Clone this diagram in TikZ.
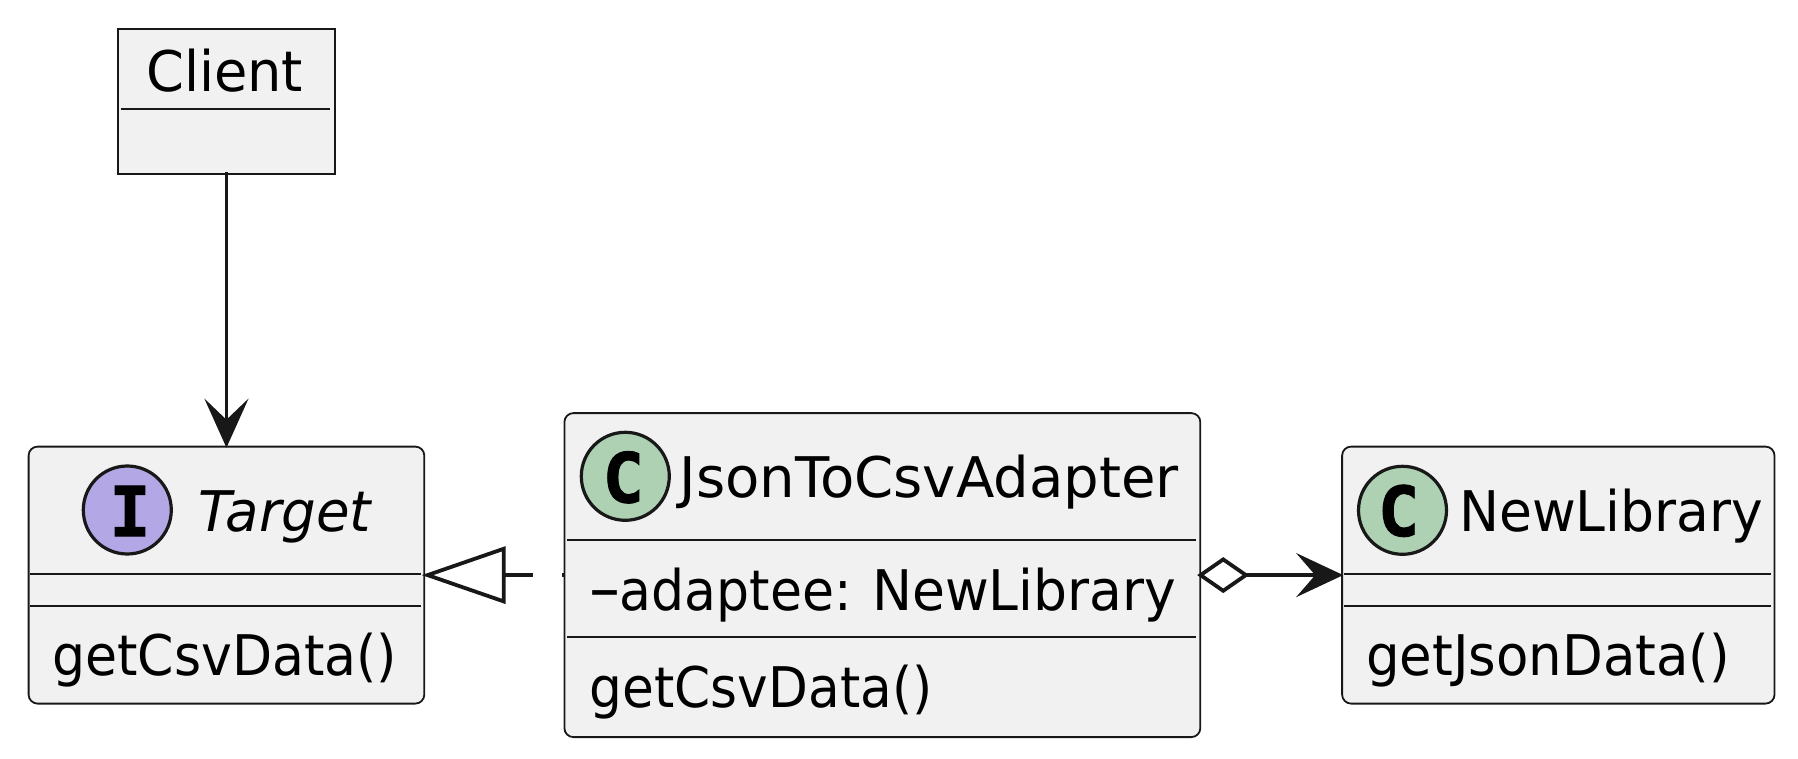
\documentclass[tikz,border=0pt]{standalone}
\usepackage{fontspec}
\setmainfont{DejaVu Sans}
\newfontfamily\monobold[BoldFont={DejaVu Sans Mono Bold},BoldFeatures={FakeBold=1.2}]{DejaVu Sans Mono}
\usepackage{graphicx}
\usetikzlibrary{arrows.meta}
\definecolor{boxfill}{HTML}{F1F1F1}
\definecolor{ink}{HTML}{181818}
\definecolor{spotc}{HTML}{ADD1B2}
\definecolor{spoti}{HTML}{B4A7E5}
\newcommand{\fitw}[2]{\setbox0=\hbox{#2}\pgfmathsetmacro{\fitratio}{#1/(\wd0/1pt)}\scalebox{\fitratio}[1]{\box0}}
\tikzset{
  x=1pt,y=-1pt,
  classbox/.style={draw=ink,fill=boxfill,line width=1.8pt,rounded corners=9pt,inner sep=0pt,anchor=north west},
  plainbox/.style={classbox,rounded corners=0pt},
  seprule/.style={draw=ink,line width=1.8pt},
  spot/.style={circle,draw=ink,line width=3.2pt,inner sep=0pt,minimum size=88pt},
  spotletter/.style={inner sep=0pt,anchor=center,font=\fontsize{69pt}{69pt}\monobold\bfseries,text=black},
  label/.style={inner sep=0pt,anchor=base west,text=black,font=\fontsize{56pt}{60pt}\selectfont},
  connector/.style={draw=ink,line width=3.8pt},
}
\begin{document}
\begin{tikzpicture}
\useasboundingbox (0,0) rectangle (1798,759);
% boxes
\node[plainbox,minimum width=216.7pt,minimum height=144.5pt] (client) at (117.2,28.5) {};
\node[classbox,minimum width=395.7pt,minimum height=257pt] (target) at (27.7,445.7) {};
\node[classbox,minimum width=635.9pt,minimum height=324pt] (adapter) at (563.5,412.2) {};
\node[classbox,minimum width=432.4pt,minimum height=257pt] (newlib) at (1341.2,445.7) {};
% separators
\draw[seprule] (120.5,109) -- (330,109);
\draw[seprule] (30.4,574.2) -- (420.6,574.2);
\draw[seprule] (30.4,606.2) -- (420.6,606.2);
\draw[seprule] (566.5,540.3) -- (1196.4,540.3);
\draw[seprule] (566.5,637.3) -- (1196.4,637.3);
\draw[seprule] (1344.2,574.2) -- (1770.6,574.2);
\draw[seprule] (1344.2,606.2) -- (1770.6,606.2);
% spots
\node[spot,fill=spoti] (spotT) at (127.3,510) {};
\node[spotletter] (letT) at (130,511) {I};
\node[spot,fill=spotc] (spotA) at (625.3,476.3) {};
\node[spotletter] (letA) at (623.3,477.3) {C};
\node[spot,fill=spotc] (spotN) at (1402.5,510.3) {};
\node[spotletter] (letN) at (1398.6,510.8) {C};
% texts
\node[label] (tClient) at (146,91.5) {\fitw{157}{Client}};
\node[label] (tTarget) at (198,531) {\fitw{173}{\itshape Target}};
\node[label] (mTarget) at (52,675.5) {\fitw{345}{getCsvData()}};
\node[label] (tAdapter) at (679.5,497.3) {\fitw{499}{JsonToCsvAdapter}};
\node[label] (aAdapter) at (588,610) {\fitw{33}{−}\hspace{-1.5pt}\fitw{232}{adaptee:}\hspace{20.5pt}\fitw{304}{NewLibrary}};
\node[label] (mAdapter) at (589.7,707.8) {\fitw{342.5}{getCsvData()}};
\node[label] (tNew) at (1459,531) {\fitw{304}{NewLibrary}};
\node[label] (mNew) at (1366,675.5) {\fitw{364}{getJsonData()}};
% connectors
\draw[connector,shorten <=-3pt,shorten >=-2pt,-{Stealth[length=49pt,width=44pt,inset=21pt,fill=ink]}] (client.south) -- (target.north);
\draw[connector,shorten <=-3.5pt,dash pattern=on 28pt off 29pt on 3pt off 100pt,{Triangle[open,length=84pt,width=57pt,fill=white]}-] (target.east) -- (adapter.west);
\draw[connector,shorten <=-4pt,shorten >=-2pt,{Diamond[open,length=52pt,width=36pt,fill=white]}-{Stealth[length=47pt,width=44pt,inset=19pt,fill=ink]}] (adapter.east) -- (newlib.west);
\end{tikzpicture}
\end{document}
